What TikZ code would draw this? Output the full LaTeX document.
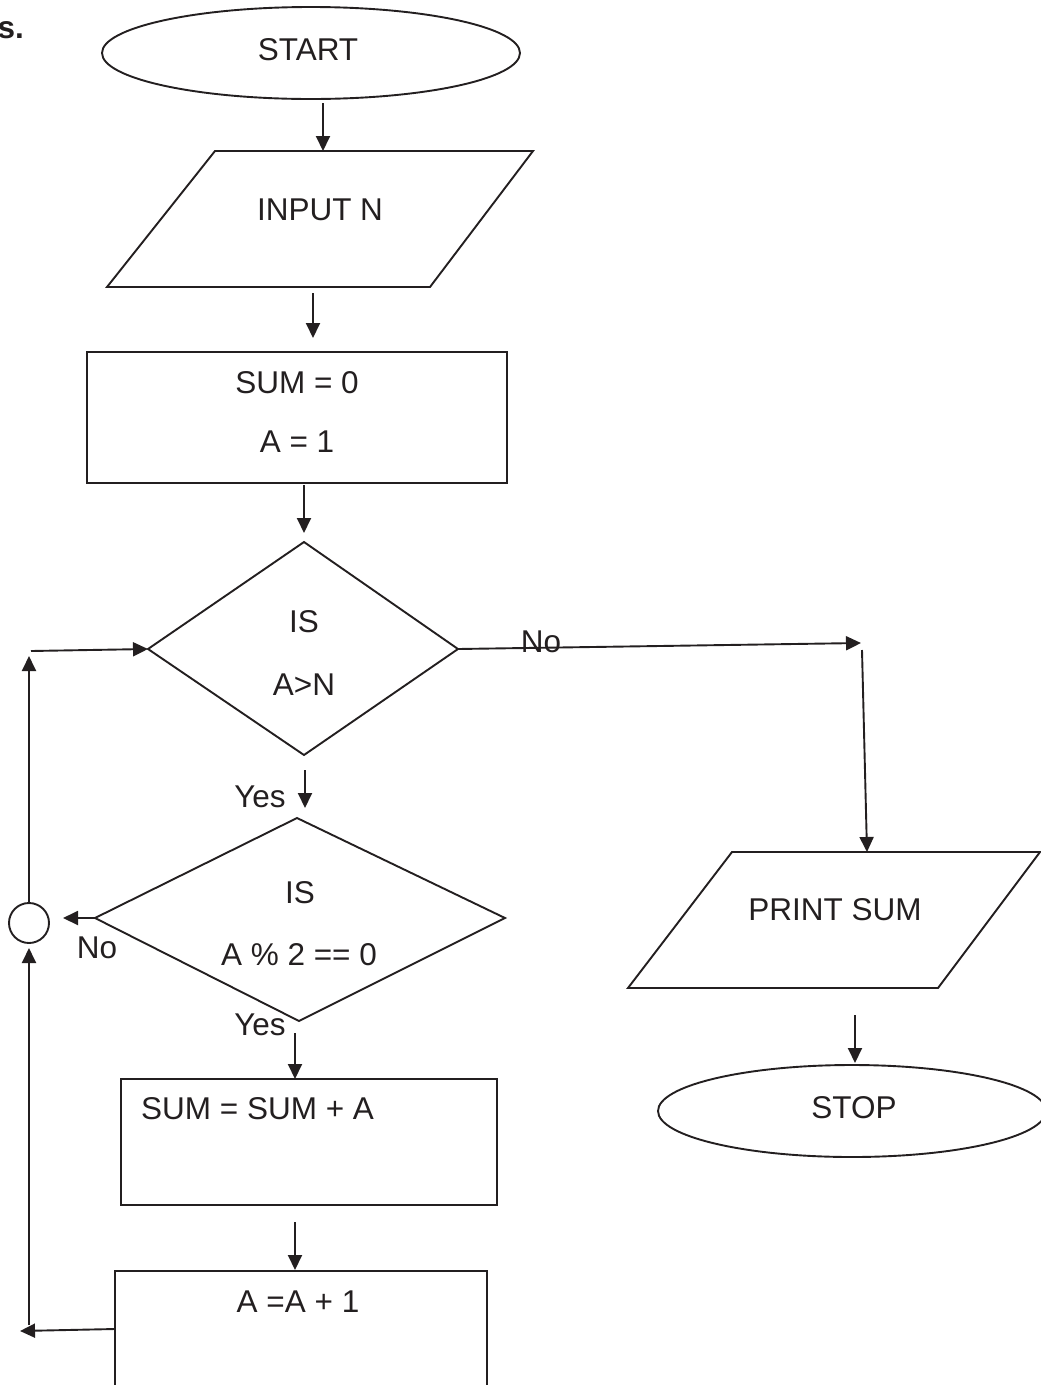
\documentclass[tikz,border=0pt]{standalone}
\usepackage{fontspec}
\setmainfont{Liberation Sans}
\usetikzlibrary{arrows.meta,shapes.geometric}
\definecolor{ink}{RGB}{35,31,32}
\begin{document}
\begin{tikzpicture}[x=1pt,y=-1pt,
  shp/.style={draw=ink, line width=1.9pt, line join=miter},
  arr/.style={draw=ink, line width=1.9pt, -{Triangle[length=15pt,width=14pt]}},
  lbl/.style={font=\fontsize{31.5}{36}\selectfont, inner sep=0pt, text=ink, anchor=base},
]
\useasboundingbox (0,0) rectangle (1041,1385);

% shapes
\node[shp, ellipse, minimum width=418pt, minimum height=92pt, inner sep=0pt] (start) at (311,53) {};
\draw[shp] (215,151) coordinate (inTL) -- (533,151) coordinate (inTR) -- (430,287) coordinate (inBR) -- (107,287) coordinate (inBL) -- cycle;
\node[shp, rectangle, minimum width=420pt, minimum height=131pt, inner sep=0pt] (init) at (297,417.5) {};
\draw[shp] (304,542) coordinate (d1T) -- (458,649) coordinate (d1R) -- (304,755) coordinate (d1B) -- (148,649) coordinate (d1L) -- cycle;
\draw[shp] (297,818) coordinate (d2T) -- (505,918) coordinate (d2R) -- (299,1021) coordinate (d2B) -- (95,918) coordinate (d2L) -- cycle;
\node[shp, rectangle, minimum width=376pt, minimum height=126pt, inner sep=0pt] (add) at (309,1142) {};
\draw[shp] (115,1385) -- (115,1271) -- (487,1271) -- (487,1385);
\coordinate (incL) at (115,1329);
\draw[shp] (732,852) coordinate (prTL) -- (1040,852) coordinate (prTR) -- (938,988) coordinate (prBR) -- (628,988) coordinate (prBL) -- cycle;
\node[shp, ellipse, minimum width=388pt, minimum height=92pt, inner sep=0pt] (stop) at (852,1111) {};
\node[shp, circle, minimum size=40pt, inner sep=0pt] (join) at (29,923) {};

% texts
\node[lbl, anchor=base east, font=\fontsize{31.5}{36}\selectfont\bfseries] (frag) at (24,38) {s.};
\node[lbl] (tstart) at (308,60) {START};
\node[lbl] (tinput) at (320,220) {INPUT N};
\node[lbl] (tsum0) at (297,393) {SUM = 0};
\node[lbl] (ta1) at (297,452) {A = 1};
\node[lbl] (tis1) at (304,632) {IS};
\node[lbl] (tagn) at (304,695) {A>N};
\node[lbl] (tno1) at (541,652) {No};
\node[lbl] (tyes1) at (260,807) {Yes};
\node[lbl] (tis2) at (300,903) {IS};
\node[lbl] (tmod) at (299,965) {A \% 2 == 0};
\node[lbl] (tno2) at (97,958) {No};
\node[lbl] (tyes2) at (260,1035) {Yes};
\node[lbl, anchor=base west] (tadd) at (141,1119) {SUM = SUM + A};
\node[lbl] (tinc) at (298,1312) {A =A + 1};
\node[lbl] (tprint) at (835,920) {PRINT SUM};
\node[lbl] (tstop) at (854,1118) {STOP};

% connector ends
\coordinate (c1s) at (323,103); \coordinate (c1e) at (323,151);
\coordinate (c2s) at (313,293); \coordinate (c2e) at (313,338);
\coordinate (c3s) at (304,485); \coordinate (c3e) at (304,533);
\coordinate (c4e) at (861,643);
\coordinate (c5s) at (862,650); \coordinate (c5e) at (867,852);
\coordinate (c6s) at (305,770); \coordinate (c6e) at (305,808);
\coordinate (c7e) at (63,918);
\coordinate (c8s) at (29,903); \coordinate (c8e) at (29,656);
\coordinate (c9s) at (31,651);
\coordinate (c10s) at (295,1033); \coordinate (c10e) at (295,1079);
\coordinate (c11s) at (295,1222); \coordinate (c11e) at (295,1270);
\coordinate (c12e) at (20,1331);
\coordinate (c13s) at (29,1325); \coordinate (c13e) at (29,948);
\coordinate (c14s) at (855,1015); \coordinate (c14e) at (855,1063);

% connectors
\draw[arr] (c1s) -- (c1e);
\draw[arr] (c2s) -- (c2e);
\draw[arr] (c3s) -- (c3e);
\draw[arr] (d1R) -- (c4e);
\draw[arr] (c5s) -- (c5e);
\draw[arr] (c6s) -- (c6e);
\draw[arr] (d2L) -- (c7e);
\draw[arr] (c8s) -- (c8e);
\draw[arr] (c9s) -- (d1L);
\draw[arr] (c10s) -- (c10e);
\draw[arr] (c11s) -- (c11e);
\draw[arr] (incL) -- (c12e);
\draw[arr] (c13s) -- (c13e);
\draw[arr] (c14s) -- (c14e);
\end{tikzpicture}
\end{document}
